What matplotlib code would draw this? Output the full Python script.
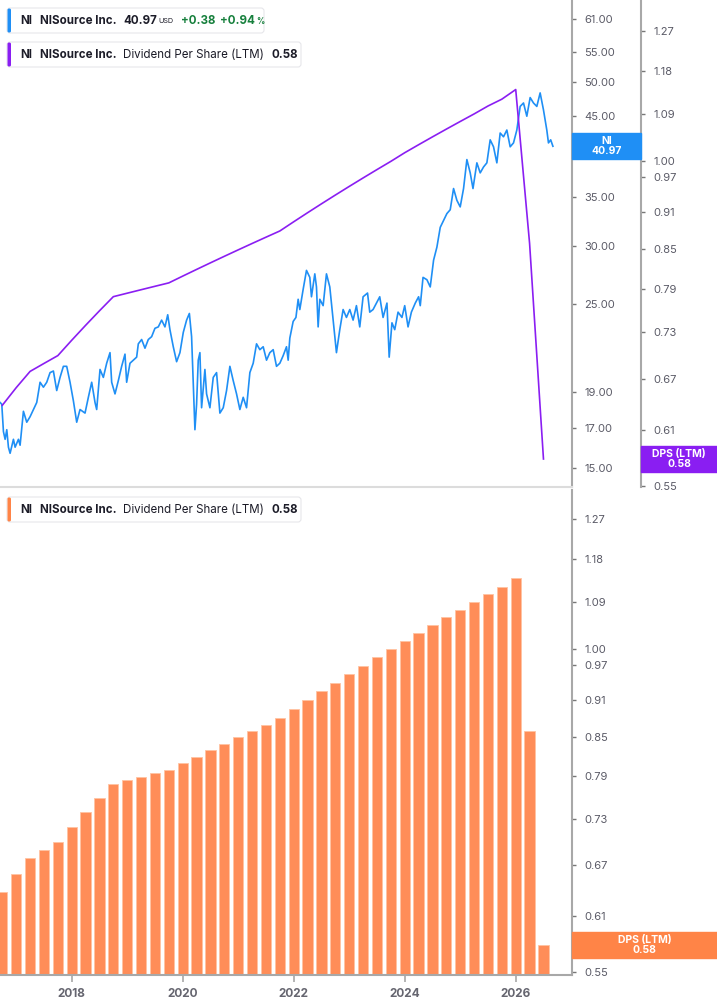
import matplotlib
matplotlib.use("Agg")
import matplotlib.pyplot as plt
from matplotlib.patches import Rectangle, FancyBboxPatch
from matplotlib.ticker import FixedLocator, NullLocator, FormatStrFormatter

plt.rcParams['font.family'] = ['Inter', 'DejaVu Sans']

# NI close price
price_years = [2016.71, 2016.74, 2016.77, 2016.80, 2016.83, 2016.86, 2016.89, 2016.95, 2016.98, 2017.04,
               2017.07, 2017.13, 2017.19, 2017.25, 2017.31, 2017.37, 2017.43, 2017.49, 2017.55, 2017.61,
               2017.67, 2017.73, 2017.79, 2017.85, 2017.91, 2017.97, 2018.03, 2018.09, 2018.15, 2018.24,
               2018.30, 2018.36, 2018.42, 2018.45, 2018.51, 2018.57, 2018.63, 2018.69, 2018.72, 2018.78,
               2018.84, 2018.90, 2018.96, 2018.99, 2019.05, 2019.11, 2019.17, 2019.20, 2019.26, 2019.32,
               2019.38, 2019.44, 2019.50, 2019.56, 2019.62, 2019.68, 2019.73, 2019.77, 2019.83, 2019.89,
               2019.95, 2020.01, 2020.07, 2020.12, 2020.16, 2020.19, 2020.22, 2020.25, 2020.28, 2020.31,
               2020.34, 2020.40, 2020.43, 2020.49, 2020.55, 2020.61, 2020.67, 2020.73, 2020.79, 2020.85,
               2020.91, 2020.97, 2021.03, 2021.09, 2021.15, 2021.21, 2021.27, 2021.33, 2021.39, 2021.45,
               2021.51, 2021.57, 2021.63, 2021.69, 2021.75, 2021.81, 2021.87, 2021.90, 2021.93, 2021.99,
               2022.04, 2022.08, 2022.11, 2022.17, 2022.23, 2022.29, 2022.32, 2022.38, 2022.41, 2022.44,
               2022.47, 2022.53, 2022.59, 2022.65, 2022.71, 2022.77, 2022.83, 2022.89, 2022.95, 2023.01,
               2023.07, 2023.13, 2023.19, 2023.25, 2023.33, 2023.37, 2023.43, 2023.49, 2023.55, 2023.61,
               2023.68, 2023.72, 2023.77, 2023.82, 2023.88, 2023.95, 2024.00, 2024.06, 2024.12, 2024.19,
               2024.25, 2024.28, 2024.33, 2024.40, 2024.46, 2024.52, 2024.58, 2024.64, 2024.70, 2024.76,
               2024.82, 2024.88, 2024.94, 2025.00, 2025.06, 2025.12, 2025.18, 2025.23, 2025.30, 2025.36,
               2025.42, 2025.48, 2025.54, 2025.60, 2025.66, 2025.72, 2025.78, 2025.84, 2025.90, 2025.96,
               2026.02, 2026.08, 2026.14, 2026.20, 2026.26, 2026.32, 2026.38, 2026.44, 2026.50, 2026.56,
               2026.59, 2026.63, 2026.67]
price_close = [18.4, 18.3, 16.8, 16.4, 16.9, 16.0, 15.7, 16.4, 16.0, 16.4,
               16.1, 17.9, 17.3, 17.6, 18.0, 18.4, 19.6, 19.3, 19.6, 20.2,
               20.3, 19.1, 19.9, 20.6, 20.6, 19.6, 18.5, 17.3, 18.0, 17.8,
               18.7, 19.6, 18.4, 18.0, 20.4, 19.9, 20.8, 21.5, 19.6, 18.9,
               19.7, 20.6, 21.4, 19.6, 20.8, 21.0, 21.2, 22.1, 22.4, 21.8,
               22.4, 22.6, 23.2, 23.3, 23.8, 23.3, 24.2, 23.1, 21.9, 20.9,
               21.5, 22.9, 23.8, 24.3, 22.6, 19.6, 16.9, 18.3, 21.0, 21.5,
               18.1, 20.4, 18.9, 18.1, 19.9, 20.2, 17.8, 18.1, 19.1, 20.6,
               19.7, 18.9, 18.0, 18.7, 18.1, 20.2, 20.8, 22.1, 21.7, 21.9,
               21.0, 21.5, 21.7, 20.6, 20.8, 21.3, 21.9, 21.0, 22.5, 23.7,
               24.0, 25.4, 24.6, 26.2, 27.8, 27.2, 25.6, 27.5, 26.4, 23.3,
               25.4, 24.9, 27.5, 26.4, 23.8, 21.5, 23.1, 24.6, 24.0, 24.6,
               23.8, 24.9, 23.3, 25.6, 25.9, 24.4, 24.6, 25.1, 25.6, 24.0,
               25.1, 21.2, 23.6, 23.1, 24.4, 24.0, 24.9, 23.3, 24.4, 25.1,
               25.6, 24.9, 27.2, 27.0, 26.4, 28.7, 29.9, 31.8, 32.5, 33.2,
               33.6, 35.9, 34.6, 33.9, 35.9, 39.3, 37.7, 35.9, 38.9, 37.7,
               38.4, 38.9, 41.8, 40.9, 38.9, 42.7, 42.2, 43.1, 40.9, 41.4,
               43.1, 46.4, 46.9, 45.0, 47.7, 46.9, 46.4, 48.4, 45.9, 43.1,
               41.4, 41.8, 40.97]

# Dividend per share, last twelve months, quarterly
dps_years = [2016.75, 2017.00, 2017.25, 2017.50, 2017.75, 2018.00, 2018.25, 2018.50, 2018.75, 2019.00,
             2019.25, 2019.50, 2019.75, 2020.00, 2020.25, 2020.50, 2020.75, 2021.00, 2021.25, 2021.50,
             2021.75, 2022.00, 2022.25, 2022.50, 2022.75, 2023.00, 2023.25, 2023.50, 2023.75, 2024.00,
             2024.25, 2024.50, 2024.75, 2025.00, 2025.25, 2025.50, 2025.75, 2026.00, 2026.25, 2026.50]
dps_ltm = [0.638, 0.659, 0.679, 0.689, 0.699, 0.719, 0.739, 0.759, 0.779, 0.784,
           0.789, 0.794, 0.799, 0.809, 0.819, 0.829, 0.839, 0.849, 0.859, 0.869,
           0.879, 0.894, 0.909, 0.924, 0.939, 0.954, 0.969, 0.984, 0.999, 1.015,
           1.030, 1.045, 1.060, 1.075, 1.090, 1.106, 1.120, 1.140, 0.859, 0.578]

price_ticks = [15, 17, 19, 25, 30, 35, 40, 45, 50, 55, 61]
dps_ticks = [0.55, 0.61, 0.67, 0.73, 0.79, 0.85, 0.91, 0.97, 1.00, 1.09, 1.18, 1.27]
year_ticks = [2018, 2020, 2022, 2024, 2026]

BLUE = '#1f8ff5'
PURPLE = '#8a1ef2'
ORANGE = '#ff8d58'
ORANGE_TAG = '#ff8447'
GREY = '#a8a8a8'
TXT = '#5a5a66'
DARK = '#1c1c28'
GREEN = '#17803d'

W, H = 717, 1005
fig = plt.figure(figsize=(W / 100, H / 100), dpi=100)

ax_top = fig.add_axes([0, 1 - 487 / H, 572 / W, 487 / H])
ax_bot = fig.add_axes([0, 1 - 975 / H, 572 / W, (975 - 490) / H])
xlim = (2016.708, 2027.014)


def style_axis(ax, ticks, ylim):
    ax.set_yscale('log')
    ax.set_ylim(*ylim)
    ax.set_xlim(*xlim)
    ax.yaxis.tick_right()
    ax.yaxis.set_major_locator(FixedLocator(ticks))
    ax.yaxis.set_minor_locator(NullLocator())
    ax.yaxis.set_major_formatter(FormatStrFormatter('%.2f'))
    ax.tick_params(axis='y', direction='out', length=3, width=1, color='#777',
                   labelcolor=TXT, labelsize=8, pad=6)
    for s in ('left', 'top'):
        ax.spines[s].set_visible(False)
    ax.spines['right'].set_color(GREY)
    ax.spines['right'].set_linewidth(1.5)


# ---- top panel: price + DPS line
ax_top.plot(price_years, price_close, color=BLUE, lw=1.2, zorder=3)
ax_top.set_xticks([])
ax_top.spines['bottom'].set_color('#dcdcdc')
ax_top.spines['bottom'].set_linewidth(1.5)

ax_dps = ax_top.twinx()
style_axis(ax_top, price_ticks, (14.13, 64.7))   # after twinx, which moves ticks left
style_axis(ax_dps, dps_ticks, (0.549, 1.344))
ax_dps.spines['bottom'].set_visible(False)
ax_dps.spines['right'].set_position(('axes', 641 / 572))
ax_dps.plot(dps_years, dps_ltm, color=PURPLE, lw=1.2, zorder=2)

# ---- bottom panel: DPS bars
style_axis(ax_bot, dps_ticks, (0.547, 1.341))
base = ax_bot.get_ylim()[0]
ax_bot.bar(dps_years, [v - base for v in dps_ltm], bottom=base, width=0.185,
           color=ORANGE, edgecolor='#ffc3a2', linewidth=0.6)
ax_bot.set_xticks(year_ticks)
ax_bot.set_xticklabels([str(y) for y in year_ticks], fontweight='bold')
ax_bot.tick_params(axis='x', direction='out', length=5, width=1.2, color=GREY,
                   labelcolor='#666670', labelsize=8.5, pad=4)
ax_bot.spines['bottom'].set_color(GREY)
ax_bot.spines['bottom'].set_linewidth(1.5)


# ---- value tags on the axes
def tag(ax, value, x0, x1, color, lines):
    yc = ax.transData.transform((xlim[0], value))[1]
    h = 26
    fig.add_artist(Rectangle((x0 / 100, (yc - h / 2) / 100), (x1 - x0) / 100, h / 100,
                             transform=fig.dpi_scale_trans, color=color, zorder=10))
    fig.text((x0 + x1) / 2 / W, yc / H, lines, color='white', fontsize=7.5,
             fontweight='bold', ha='center', va='center', linespacing=0.95, zorder=11)


tag(ax_top, price_close[-1], 572, 641, BLUE, 'NI\n%.2f' % price_close[-1])
tag(ax_dps, dps_ltm[-1], 641, 717, PURPLE, 'DPS (LTM)\n%.2f' % dps_ltm[-1])
tag(ax_bot, dps_ltm[-1], 572, 717, ORANGE_TAG, 'DPS (LTM)\n%.2f' % dps_ltm[-1])

renderer = fig.canvas.get_renderer()


# ---- legend chips
def chip(y_top, width, color, parts):
    h = 25
    fig.add_artist(FancyBboxPatch((7 / 100, (H - y_top - h) / 100), width / 100, h / 100,
                                  boxstyle='round,pad=0,rounding_size=0.03',
                                  transform=fig.dpi_scale_trans, facecolor='white',
                                  edgecolor='#e6e6ea', linewidth=0.8, zorder=10))
    fig.add_artist(FancyBboxPatch((7.5 / 100, (H - y_top - h + 0.5) / 100), 3.5 / 100, (h - 1) / 100,
                                  boxstyle='round,pad=0,rounding_size=0.015',
                                  transform=fig.dpi_scale_trans, facecolor=color,
                                  edgecolor='none', zorder=11))
    yc = 1 - (y_top + h / 2 + 0.5) / H
    end = 0
    for x, text, weight, col, size, gap in parts:
        x = max(x, end + gap)
        t = fig.text(x / W, yc, text, fontsize=size, fontweight=weight, color=col,
                     ha='left', va='center', zorder=12)
        end = t.get_window_extent(renderer).x1


chip(8, 257, BLUE, [(20, 'NI', 'bold', DARK, 8.3, 0), (40, 'NISource Inc.', 'bold', DARK, 8.3, 6),
                    (123, '%.2f' % price_close[-1], 'bold', DARK, 8.3, 6),
                    (157, 'USD', 'normal', DARK, 5.2, 2),
                    (181, '+0.38', 'bold', GREEN, 8.3, 6), (218, '+0.94', 'bold', GREEN, 8.3, 5),
                    (250, '%', 'bold', GREEN, 5.8, 1)])
dps_parts = [(20, 'NI', 'bold', DARK, 8.3, 0), (40, 'NISource Inc.', 'bold', DARK, 8.3, 6),
             (123, 'Dividend Per Share (LTM)', 'normal', DARK, 8.3, 6),
             (271, '%.2f' % dps_ltm[-1], 'bold', DARK, 8.3, 6)]
chip(42, 294, PURPLE, dps_parts)
chip(497, 294, ORANGE_TAG, dps_parts)

fig.savefig('out.png', dpi=100)
